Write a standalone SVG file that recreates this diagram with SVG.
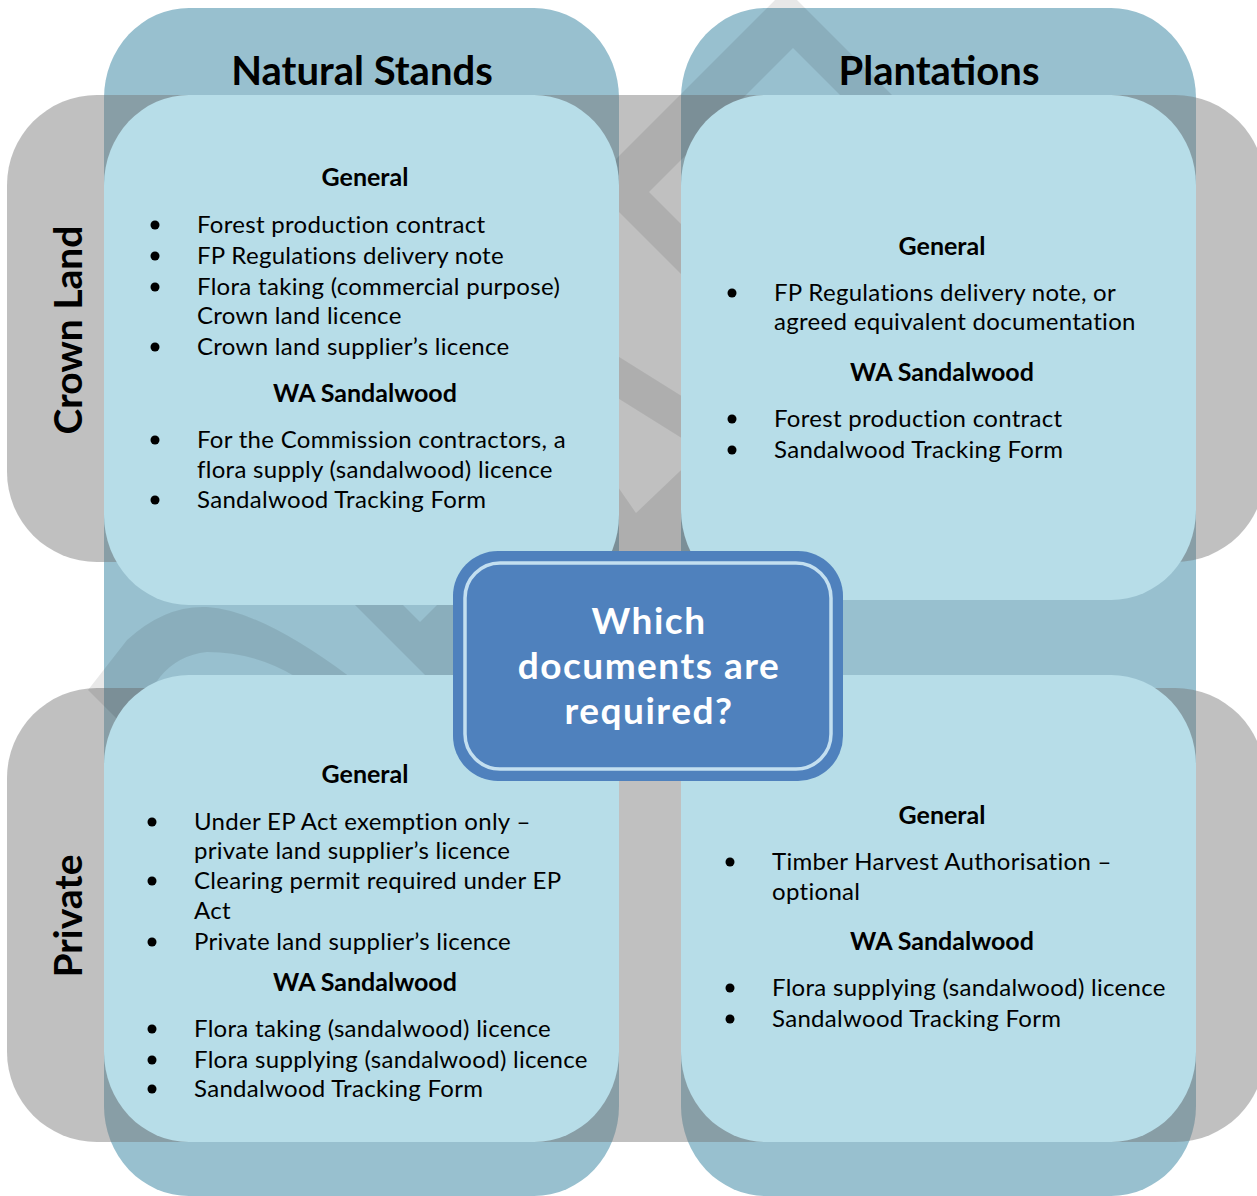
<svg xmlns="http://www.w3.org/2000/svg" width="1257" height="1196" viewBox="0 0 1257 1196">
<style>
.col{fill:#98c0cf}
.row{fill:#757575;fill-opacity:0.456}
.wm{fill:#000;fill-opacity:0.09}
.quad{fill:#b7dde8}
.t{font-family:Lato,"Liberation Sans",sans-serif;fill:#000}
.title{font-size:40px;font-weight:bold;text-anchor:middle}
.side{font-size:39px;font-weight:bold;text-anchor:middle}
.hd{font-size:25px;font-weight:bold;text-anchor:middle}
.b{font-size:24px;letter-spacing:0.3px}
.ctr{font-family:Lato,"Liberation Sans",sans-serif;font-size:37px;letter-spacing:1.5px;font-weight:bold;fill:#fff;text-anchor:middle}
</style>
<rect width="1257" height="1196" fill="#fff"/>
<g id="col-natural-stands">
<rect class="col" x="104" y="8" width="515" height="1188" rx="85" ry="90"/>
<text class="t title" x="362" y="85">Natural Stands</text>
</g>
<g id="col-plantations">
<rect class="col" x="681" y="8" width="515" height="1188" rx="85" ry="90"/>
<text class="t title" x="939" y="85">Plantations</text>
</g>
<g id="row-crown-land">
<rect class="row" x="7" y="95" width="1258" height="467" rx="90" ry="90"/>
<text class="t side" transform="translate(82,330) rotate(-90)">Crown Land</text>
</g>
<g id="row-private">
<rect class="row" x="7" y="688" width="1258" height="454" rx="90" ry="90"/>
<text class="t side" transform="translate(82,916) rotate(-90)">Private</text>
</g>
<g id="watermark">
<polygon class="wm" points="786,-11 960,163 905,160 793,48 649,192 760,303 710,303 591,184"/>
<polygon class="wm" points="560,320 720,420 720,462 560,362"/>
<polygon class="wm" points="600,461 636,513 700,452 700,600 600,600"/>
<path class="wm" d="M88,690 L127,640 Q165,605 207,607 Q260,610 350,677 L296,677 Q255,652 207,652 Q178,655 160,677 L125,727 Z"/>
<polygon class="wm" points="355,605 403,605 420,622 437,605 470,605 470,680 430,680"/>
</g>
<g id="connectors"></g>
<g id="quad-natural-crown">
<rect class="quad" x="104" y="95" width="515" height="510" rx="85" ry="90"/>
<text class="t hd" x="365" y="186">General</text>
<g fill="#000"><circle cx="155" cy="225" r="4.5"/><circle cx="155" cy="256" r="4.5"/><circle cx="155" cy="287" r="4.5"/><circle cx="155" cy="347" r="4.5"/><circle cx="155" cy="440" r="4.5"/><circle cx="155" cy="500" r="4.5"/></g>
<text class="t b" x="197" y="233">Forest production contract</text>
<text class="t b" x="197" y="264">FP Regulations delivery note</text>
<text class="t b" x="197" y="295">Flora taking (commercial purpose)</text>
<text class="t b" x="197" y="324">Crown land licence</text>
<text class="t b" x="197" y="355">Crown land supplier’s licence</text>
<text class="t hd" x="365" y="402">WA Sandalwood</text>
<text class="t b" x="197" y="448">For the Commission contractors, a</text>
<text class="t b" x="197" y="478">flora supply (sandalwood) licence</text>
<text class="t b" x="197" y="508">Sandalwood Tracking Form</text>
</g>
<g id="quad-plantations-crown">
<rect class="quad" x="681" y="95" width="515" height="505" rx="85" ry="90"/>
<text class="t hd" x="942" y="255">General</text>
<g fill="#000"><circle cx="732" cy="293" r="4.5"/><circle cx="732" cy="419" r="4.5"/><circle cx="732" cy="450" r="4.5"/></g>
<text class="t b" x="774" y="301">FP Regulations delivery note, or</text>
<text class="t b" x="774" y="330">agreed equivalent documentation</text>
<text class="t hd" x="942" y="381">WA Sandalwood</text>
<text class="t b" x="774" y="427">Forest production contract</text>
<text class="t b" x="774" y="458">Sandalwood Tracking Form</text>
</g>
<g id="quad-natural-private">
<rect class="quad" x="104" y="675" width="515" height="467" rx="85" ry="90"/>
<text class="t hd" x="365" y="783">General</text>
<g fill="#000"><circle cx="152" cy="822" r="4.5"/><circle cx="152" cy="881" r="4.5"/><circle cx="152" cy="942" r="4.5"/><circle cx="152" cy="1029" r="4.5"/><circle cx="152" cy="1060" r="4.5"/><circle cx="152" cy="1089" r="4.5"/></g>
<text class="t b" x="194" y="830">Under EP Act exemption only –</text>
<text class="t b" x="194" y="859">private land supplier’s licence</text>
<text class="t b" x="194" y="889">Clearing permit required under EP</text>
<text class="t b" x="194" y="919">Act</text>
<text class="t b" x="194" y="950">Private land supplier’s licence</text>
<text class="t hd" x="365" y="991">WA Sandalwood</text>
<text class="t b" x="194" y="1037">Flora taking (sandalwood) licence</text>
<text class="t b" x="194" y="1068">Flora supplying (sandalwood) licence</text>
<text class="t b" x="194" y="1097">Sandalwood Tracking Form</text>
</g>
<g id="quad-plantations-private">
<rect class="quad" x="681" y="675" width="515" height="467" rx="85" ry="90"/>
<text class="t hd" x="942" y="824">General</text>
<g fill="#000"><circle cx="730" cy="862" r="4.5"/><circle cx="730" cy="988" r="4.5"/><circle cx="730" cy="1019" r="4.5"/></g>
<text class="t b" x="772" y="870">Timber Harvest Authorisation –</text>
<text class="t b" x="772" y="900">optional</text>
<text class="t hd" x="942" y="950">WA Sandalwood</text>
<text class="t b" x="772" y="996">Flora supplying (sandalwood) licence</text>
<text class="t b" x="772" y="1027">Sandalwood Tracking Form</text>
</g>
<g id="center-question">
<rect x="453" y="551" width="390" height="230" rx="45" ry="45" fill="#4f81bd"/>
<rect x="465" y="563" width="366" height="206" rx="35" ry="35" fill="#4f81bd" stroke="#c3dff0" stroke-width="3.5"/>
<text class="ctr" x="649" y="634">Which</text>
<text class="ctr" x="649" y="679">documents are</text>
<text class="ctr" x="649" y="724">required?</text>
</g>
</svg>
